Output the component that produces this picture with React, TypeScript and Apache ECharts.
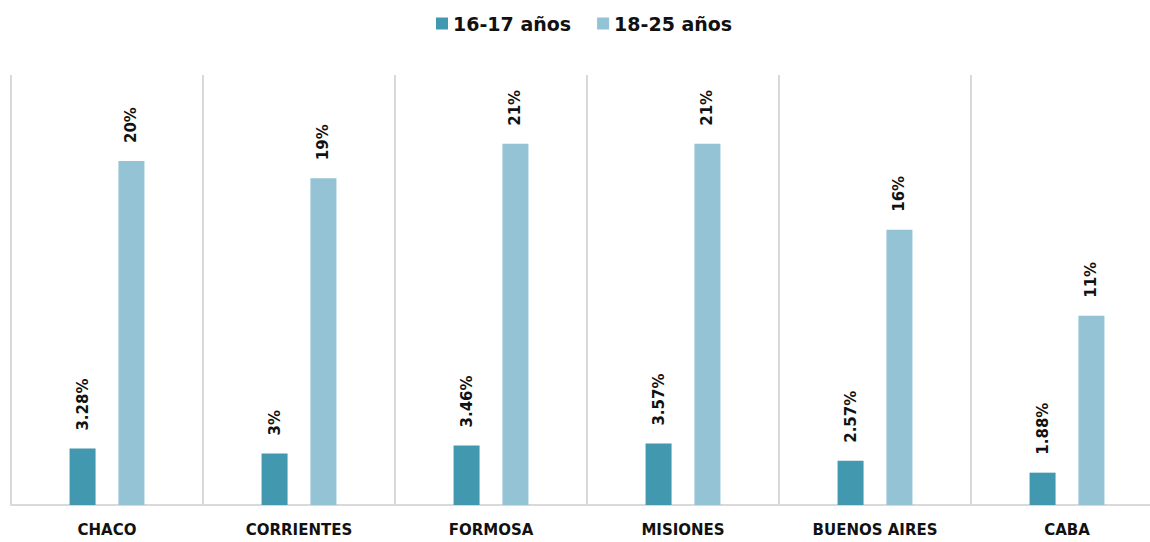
import React, { useEffect, useRef } from "react";
import * as echarts from "echarts";

const categories = ["CHACO", "CORRIENTES", "FORMOSA", "MISIONES", "BUENOS AIRES", "CABA"];
const seriesNames = ["16-17 años", "18-25 años"];
const values1617 = [3.28, 3, 3.46, 3.57, 2.57, 1.88];
const values1825 = [20, 19, 21, 21, 16, 11];
const colors = ["#4298ae", "#93c3d5"];

export default function App() {
  const ref = useRef<HTMLDivElement>(null);
  useEffect(() => {
    if (!ref.current) return;
    const chart = echarts.init(ref.current, null, { renderer: "svg" });
    const font = "'DejaVu Sans', Verdana, sans-serif";
    const mkLabel = () => ({
      show: true,
      position: "top",
      rotate: 90,
      align: "left",
      verticalAlign: "middle",
      distance: 18,
      fontFamily: font,
      fontWeight: "bold",
      fontSize: 15,
      color: "#111",
      formatter: (p: any) => `${p.value}%`,
    });
    chart.setOption({
      animation: false,
      backgroundColor: "#ffffff",
      color: colors,
      legend: {
        top: 14,
        left: 436,
        padding: 0,
        itemWidth: 12,
        itemHeight: 12,
        itemGap: 26,
        icon: "rect",
        textStyle: { fontFamily: font, fontWeight: "bold", fontSize: 19, color: "#111" },
        data: seriesNames,
      },
      grid: { left: 11, top: 75, right: 0, height: 430, containLabel: false },
      xAxis: {
        type: "category",
        data: categories,
        axisLine: { show: true, lineStyle: { color: "#d9d9d9", width: 2 } },
        axisTick: { show: false },
        splitLine: { show: true, interval: 0, lineStyle: { color: "#d9d9d9", width: 2 } },
        axisLabel: {
          interval: 0,
          margin: 17,
          fontFamily: font,
          fontWeight: "bold",
          fontSize: 15,
          color: "#111",
        },
      },
      yAxis: {
        type: "value",
        min: 0,
        max: 25,
        show: false,
        splitLine: { show: false },
      },
      series: [
        {
          name: seriesNames[0],
          type: "bar",
          data: values1617,
          barWidth: 26,
          barGap: "88%",
          label: mkLabel(),
        },
        {
          name: seriesNames[1],
          type: "bar",
          data: values1825,
          barWidth: 26,
          barGap: "88%",
          label: mkLabel(),
        },
      ],
    });
    return () => chart.dispose();
  }, []);
  return (
    <div style={{ position: "fixed", left: 0, top: 0, width: 1150, height: 542, overflow: "hidden", background: "#fff" }}>
      <div ref={ref} style={{ width: 1163, height: 542 }} />
    </div>
  );
}
